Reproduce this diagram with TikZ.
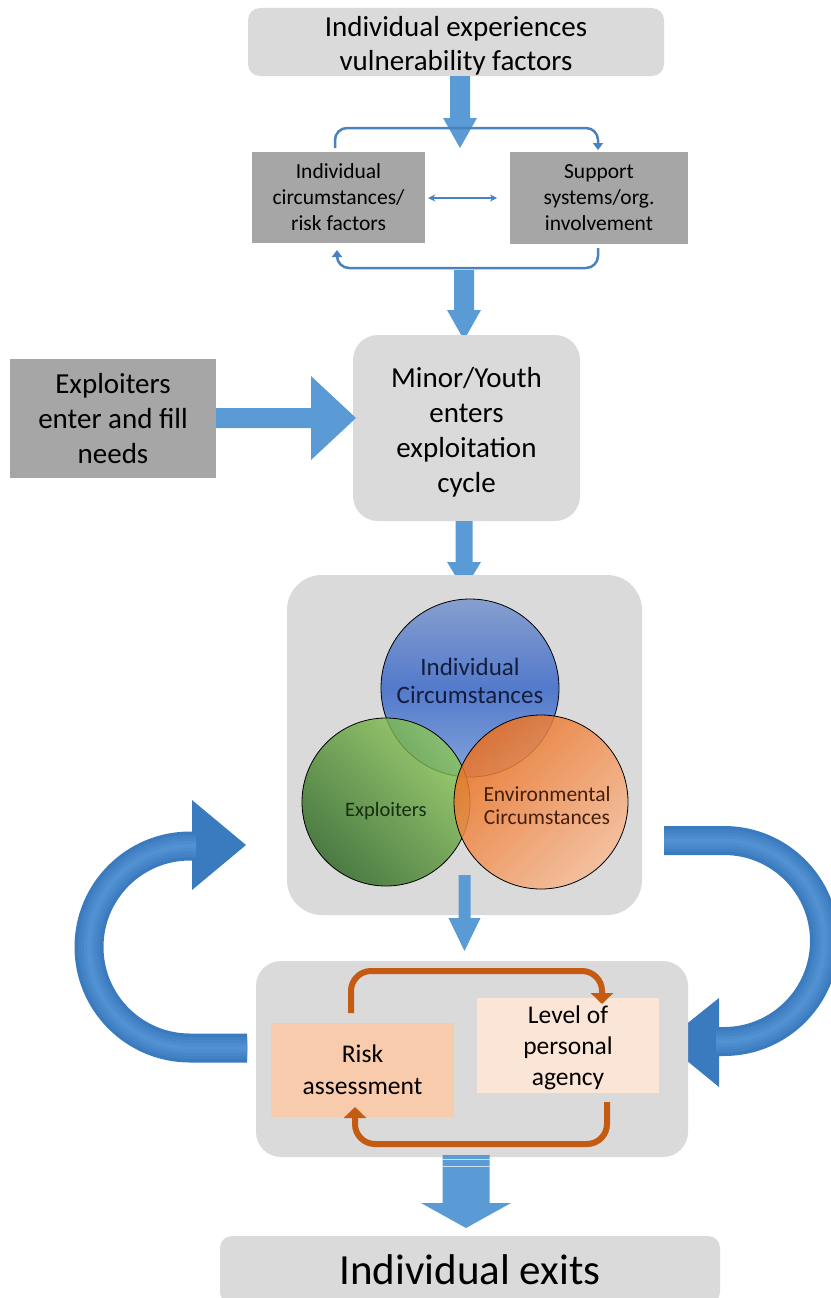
\documentclass[tikz,border=0pt]{standalone}
\usepackage{fontspec}
\setmainfont{Carlito}
\usetikzlibrary{arrows.meta,shapes.geometric}
\definecolor{lgray}{RGB}{218,218,218}
\definecolor{dgray}{RGB}{166,166,166}
\definecolor{barrow}{RGB}{91,155,213}
\definecolor{bline}{RGB}{74,130,190}
\definecolor{bigblue}{RGB}{58,122,190}
\definecolor{bigblueL}{RGB}{82,146,210}
\definecolor{orng}{RGB}{197,90,17}
\definecolor{riskc}{RGB}{248,203,173}
\definecolor{levc}{RGB}{251,229,214}
% vertical block arrow: x, y-start, y-headbase, y-tip, shaft half, head half
\newcommand\myblockdown[6]{\fill[barrow] (#1-#5,#2) -- (#1+#5,#2) -- (#1+#5,#3) -- (#1+#6,#3) -- (#1,#4) -- (#1-#6,#3) -- (#1-#5,#3) -- cycle;}
\begin{document}
\begin{tikzpicture}[x=1pt,y=-1pt,
  lbox/.style={fill=lgray,rounded corners=#1,inner sep=0pt,align=center},
  dbox/.style={fill=dgray,inner sep=0pt,align=center},
  fs/.style 2 args={font=\fontsize{#1}{#2}\selectfont},
  thinblue/.style={draw=bline,line width=2.5pt,rounded corners=12pt},
  orloop/.style={draw=orng,line width=6pt,rounded corners=20pt,-{Triangle[width=22pt,length=11pt]}},
  circ/.style={circle,draw=black,line width=0.8pt,inner sep=0pt,fill opacity=0.8,align=center}
]
\useasboundingbox (0,0) rectangle (830,1298);

% ---------- top ----------
\node[lbox=12pt,minimum width=416pt,minimum height=68pt] (top) at (456,42) {};
\node[fs={29}{34},align=center] (topt) at (456,46) {Individual experiences\\vulnerability factors};
\myblockdown{460}{76}{118}{148}{10}{17}

\node[dbox,minimum width=173pt,minimum height=91pt,fs={21.5}{26}] (lsmall) at (338.5,197.5) {Individual\\circumstances/\\risk factors};
\node[dbox,minimum width=178pt,minimum height=92pt,fs={21.5}{26}] (rsmall) at (599,198) {Support\\systems/org.\\involvement};

\draw[thinblue,-{Triangle[width=10pt,length=7pt]}] (335,148) -- (335,128) -- (598,128) -- (598,150);
\draw[thinblue,-{Triangle[width=10pt,length=7pt]}] (598,248) -- (598,268) -- (337,268) -- (337,250);
\draw[bline,line width=1.3pt,{Stealth[length=7pt,width=7pt]}-{Stealth[length=7pt,width=7pt]}] (lsmall.east |- 0,198) ++(3,0) -- (497,198);

\myblockdown{464}{270}{310}{340}{10}{17}

% ---------- exploiters / minor ----------
\node[dbox,minimum width=206pt,minimum height=119pt,fs={29}{35}] (expl) at (113,418.5) {Exploiters\\enter and fill\\needs};
\node[lbox=25pt,minimum width=227pt,minimum height=186pt] (minor) at (466.5,428) {};
\node[fs={29}{35},align=center] (minort) at (466.5,432) {Minor/Youth\\enters\\exploitation\\cycle};
\fill[barrow] (expl.east |- 0,408) -- (311,408) -- (311,376) -- (356,418) -- (311,460) -- (311,428) -- (expl.east |- 0,428) -- cycle;

\myblockdown{464}{521}{562}{590}{8.5}{17}

% ---------- venn ----------
\node[lbox=35pt,minimum width=355pt,minimum height=340pt] (venn) at (464.5,745) {};
\node[circ,minimum size=178pt,top color={rgb,255:red,115;green,145;blue,205},bottom color={rgb,255:red,110;green,150;blue,220},middle color={rgb,255:red,50;green,98;blue,200}] (bc) at (470,688) {};
\node[circ,minimum size=168pt,shading=axis,left color={rgb,255:red,40;green,100;blue,30},right color={rgb,255:red,140;green,200;blue,85},shading angle=135] (gc) at (386,802) {};
\node[circ,minimum size=174pt,shading=axis,fill opacity=0.85,left color={rgb,255:red,236;green,112;blue,32},right color={rgb,255:red,248;green,188;blue,150},shading angle=45] (oc) at (541,802) {};
\node[fs={25}{28},align=center,text={rgb,255:red,20;green,30;blue,60}] (bct) at (470,681) {Individual\\Circumstances};
\node[fs={20.5}{23},align=center,text={rgb,255:red,20;green,45;blue,15}] (gct) at (386,811) {Exploiters};
\node[fs={21.5}{23},align=center,text={rgb,255:red,70;green,30;blue,10}] (oct) at (547,806) {Environmental\\Circumstances};

\myblockdown{464.5}{875}{918}{951}{6}{16}

% ---------- big curved arrows ----------
\fill[bigblue] (247,1062.5) -- (190,1062.5) arc[start angle=90,end angle=270,radius=115.5] -- (192,831.5) -- (192,800) -- (246,845) -- (192,890) -- (192,860.5) -- (190,860.5) arc[start angle=270,end angle=90,radius=86.5] -- (247,1033.5) -- cycle;
\foreach \w/\p in {22/30,16/55,10/80,4/100}
  \draw[bigblueL!\p!bigblue,line width=\w pt] (247,1048) -- (190,1048) arc[start angle=90,end angle=270,radius=101] -- (196,846);
\fill[bigblue] (664,826) -- (724,826) arc[start angle=-90,end angle=90,radius=115] -- (719,1056) -- (719,1087) -- (664,1042) -- (719,998) -- (719,1027) -- (724,1027) arc[start angle=90,end angle=-90,radius=86] -- (664,855) -- cycle;
\foreach \w/\p in {22/30,16/55,10/80,4/100}
  \draw[bigblueL!\p!bigblue,line width=\w pt] (664,840.5) -- (724,840.5) arc[start angle=-90,end angle=90,radius=100.5] -- (716,1041.5);

% ---------- loop box ----------
\node[lbox=25pt,minimum width=432pt,minimum height=196pt] (loop) at (472,1059) {};
\node[fill=riskc,inner sep=0pt,minimum width=183pt,minimum height=94pt,align=center,fs={25.5}{32}] (risk) at (362.5,1070) {Risk\\assessment};
\node[fill=levc,inner sep=0pt,minimum width=182pt,minimum height=95pt] (lev) at (568,1045.5) {};
\node[align=center,fs={25.5}{31}] (levt) at (568,1047.5) {Level of\\personal\\agency};
\draw[orloop] (351,1013) -- (351,971) -- (602,971) -- (602,1004);
\draw[orloop] (607,1102) -- (607,1144) -- (355,1144) -- (355,1107);

% ---------- exit ----------
\myblockdown{466}{1155}{1203}{1228}{23.5}{45}
\draw[white!70!barrow,line width=1pt] (442.5,1159) -- (489.5,1159) (442.5,1166) -- (489.5,1166);
\node[lbox=12pt,minimum width=500pt,minimum height=68pt,fs={43}{48}] (exits) at (470,1270) {Individual exits};
\end{tikzpicture}
\end{document}
